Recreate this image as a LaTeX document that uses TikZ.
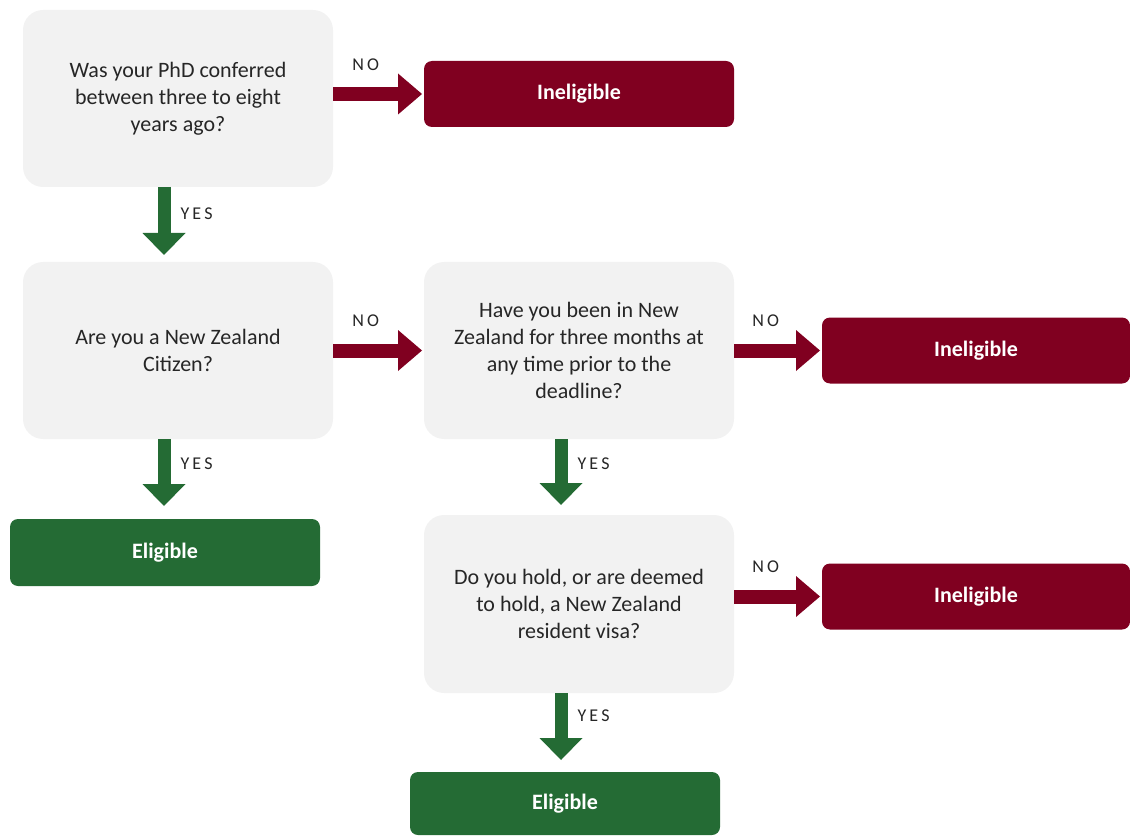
\documentclass[tikz,border=0pt]{standalone}
\usepackage{fontspec}
\setmainfont{Carlito}
\newfontfamily\spaced[LetterSpace=18]{Carlito}
\usetikzlibrary{positioning}
\usetikzlibrary{arrows.meta}
\definecolor{Wine}{RGB}{128,0,32}
\definecolor{Leaf}{RGB}{36,107,52}
\definecolor{Pale}{RGB}{242,242,242}
\definecolor{Ink}{RGB}{38,38,38}

\begin{document}
\begin{tikzpicture}[x=1pt, y=1pt]
    \tikzset{ qst/.style  ={fill=Pale, rounded corners=20pt, text=Ink, minimum width=310pt, minimum height=177pt, outer sep=0pt, align=center, font=\fontsize{22}{27}\selectfont} }
    \tikzset{ inel/.style ={fill=Wine, rounded corners=8pt, text=white, minimum width=310pt, minimum height=66pt, outer sep=0pt, font=\fontsize{22}{27}\selectfont\bfseries} }
    \tikzset{ elig/.style ={inel, fill=Leaf} }
    \tikzset{ noar/.style ={draw=Wine, line width=14pt, shorten >=2pt, -{Triangle[width=41pt, length=24pt, line width=0pt]}} }
    \tikzset{ yesar/.style={draw=Leaf, line width=13pt, -{Triangle[width=43pt, length=22pt, line width=0pt]}} }
    \tikzset{ lbl/.style  ={text=black!85, inner sep=0pt, font=\fontsize{18}{20}\selectfont\spaced} }

    \useasboundingbox (0,0) rectangle (1130,-837);

    \node[qst                                    ] (q1) at (178,-98.5) {Was your PhD conferred\\between three to eight\\years ago?};
    \node[qst,  below=75pt of q1                 ] (q2)                {Are you a New Zealand\\Citizen?};
    \node[qst,  right=91pt of q2                 ] (q3)                {Have you been in New\\Zealand for three months at\\any time prior to the\\deadline?};
    \node[qst,  below=76pt of q3, minimum height=178pt] (q4)           {Do you hold, or are deemed\\to hold, a New Zealand\\resident visa?};

    \node[inel, right=91pt of q1, yshift=4.5pt   ] (r1)                {Ineligible};
    \node[inel, right=88pt of q3, minimum width=308pt] (r2)            {Ineligible};
    \node[inel, right=88pt of q4, yshift=7.5pt, minimum width=308pt] (r3) {Ineligible};
    \node[elig, below=80pt of q2, xshift=-13pt, minimum height=67pt] (e1) {Eligible};
    \node[elig, below=79pt of q4, xshift=-14pt, minimum height=63pt] (e2) {Eligible};

    \draw[noar] (q1.east |- r1.west) -- (r1.west) node[lbl, pos=0.36, above=16pt] {NO};
    \draw[noar] (q2.east) -- (q3.west)            node[lbl, pos=0.36, above=17pt] {NO};
    \draw[noar] (q3.east) -- (r2.west)            node[lbl, pos=0.36, above=17pt] {NO};
    \draw[noar] (q4.east |- r3.west) -- (r3.west) node[lbl, pos=0.36, above=17pt] {NO};

    \draw[yesar, shorten >=7pt ] ([xshift=-14pt]q1.south) -- ([xshift=-14pt]q2.north) node[lbl, pos=0.35, right=10pt] {YES};
    \draw[yesar, shorten >=13pt] ([xshift=-14pt]q2.south) -- ([xshift=-14pt]q2.south |- e1.north) node[lbl, pos=0.31, right=10pt] {YES};
    \draw[yesar, shorten >=10pt] ([xshift=-18pt]q3.south) -- ([xshift=-18pt]q4.north) node[lbl, pos=0.32, right=10pt] {YES};
    \draw[yesar, shorten >=12pt] ([xshift=-18pt]q4.south) -- ([xshift=-18pt]q4.south |- e2.north) node[lbl, pos=0.29, right=10pt] {YES};
\end{tikzpicture}
\end{document}
